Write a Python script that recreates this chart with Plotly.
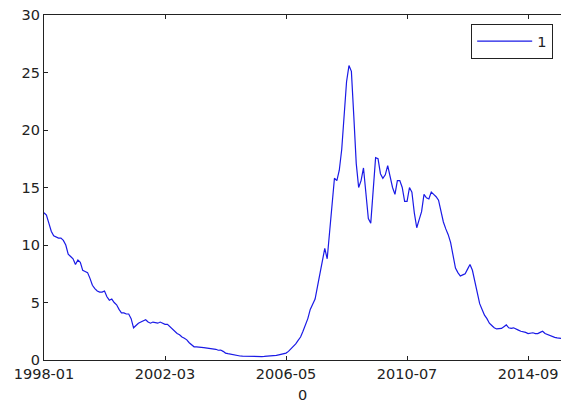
import pandas as pd
import plotly.graph_objects as go

# Monthly series, January 1998 onward
months = [p.strftime("%Y-%m") for p in pd.period_range("1998-01", periods=216, freq="M")]

values = [
    12.8, 12.6, 11.9, 11.2, 10.8, 10.7, 10.6, 10.6, 10.4, 10.0, 9.2, 9.0,
    8.8, 8.3, 8.7, 8.5, 7.8, 7.7, 7.6, 7.1, 6.5, 6.2, 6.0, 5.9,
    5.9, 6.0, 5.5, 5.2, 5.3, 5.0, 4.8, 4.4, 4.1, 4.1, 4.0, 4.0,
    3.6, 2.8, 3.0, 3.2, 3.3, 3.4, 3.5, 3.3, 3.2, 3.3, 3.25, 3.2,
    3.3, 3.2, 3.1, 3.1, 2.9, 2.7, 2.5, 2.3, 2.2, 2.0, 1.9, 1.75,
    1.5, 1.3, 1.15, 1.15, 1.1, 1.1, 1.07, 1.05, 1.0, 1.0, 0.95, 0.93,
    0.85, 0.87, 0.75, 0.6, 0.55, 0.5, 0.45, 0.42, 0.38, 0.35, 0.33, 0.32,
    0.31, 0.3, 0.29, 0.29, 0.3, 0.3, 0.3, 0.31, 0.32, 0.33, 0.34, 0.35,
    0.4, 0.45, 0.5, 0.55, 0.6, 0.75, 0.95, 1.15, 1.4, 1.7, 2.0, 2.5,
    3.0, 3.6, 4.4, 4.9, 5.3, 6.4, 7.5, 8.3, 9.7, 8.8, 11.0, 13.8,
    15.8, 15.6, 16.5, 18.3, 21.2, 24.2, 25.6, 25.1, 21.2, 17.1, 15.0, 15.6,
    16.7, 14.2, 12.3, 11.9, 14.5, 17.6, 17.5, 16.2, 15.8, 16.1, 16.9, 15.9,
    15.0, 14.4, 15.6, 15.6, 15.0, 13.8, 13.8, 15.0, 14.6, 12.8, 11.5, 12.2,
    12.9, 14.4, 14.1, 14.0, 14.6, 14.4, 14.2, 13.9, 13.0, 12.0, 11.4, 10.9,
    10.2, 9.2, 8.0, 7.6, 7.3, 7.4, 7.5, 7.9, 8.3, 7.8, 6.8, 5.8,
    4.9, 4.4, 3.9, 3.6, 3.2, 3.0, 2.8, 2.7, 2.75, 2.75, 2.9, 3.05,
    2.8, 2.75, 2.8, 2.67, 2.6, 2.5, 2.46, 2.4, 2.3, 2.35, 2.37, 2.3,
    2.3, 2.4, 2.5, 2.3, 2.2, 2.1, 2.0, 1.97, 1.92, 1.9, 1.88, 1.85,
]

x_ticks = ["1998-01", "2002-03", "2006-05", "2010-07", "2014-09"]
y_ticks = [0, 5, 10, 15, 20, 25, 30]

font = dict(family="DejaVu Sans", size=14.5, color="#222222")

fig = go.Figure()
fig.add_trace(go.Scatter(
    x=months, y=values, mode="lines", name="1",
    line=dict(color="#1a1ae6", width=1.2),
))

axis_common = dict(
    showline=True, linecolor="#222222", linewidth=1.2,
    ticks="inside", ticklen=4, tickcolor="#222222", tickwidth=1,
    showgrid=False, zeroline=False, tickfont=font,
)

fig.update_layout(
    width=561, height=406,
    margin=dict(l=44, r=0, t=15, b=46),
    paper_bgcolor="white", plot_bgcolor="white",
    font=font,
    xaxis=dict(
        type="category", range=[0, 213.6],
        tickvals=x_ticks, ticktext=x_ticks, mirror="ticks",
        title=dict(text="0", font=font, standoff=9),
        **axis_common,
    ),
    yaxis=dict(
        range=[0, 30], tickvals=y_ticks, mirror=False,
        **axis_common,
    ),
    yaxis2=dict(
        overlaying="y", side="right", range=[0, 30], tickvals=y_ticks,
        showticklabels=False, ticks="inside", ticklen=4, tickcolor="#222222",
        showline=False, showgrid=False, zeroline=False,
    ),
    showlegend=True,
    legend=dict(
        x=0.9845, xanchor="right", y=0.974, yanchor="top",
        bordercolor="#222222", borderwidth=1.2, bgcolor="white",
        font=font, itemwidth=55,
    ),
)

fig.write_html("out.html")
